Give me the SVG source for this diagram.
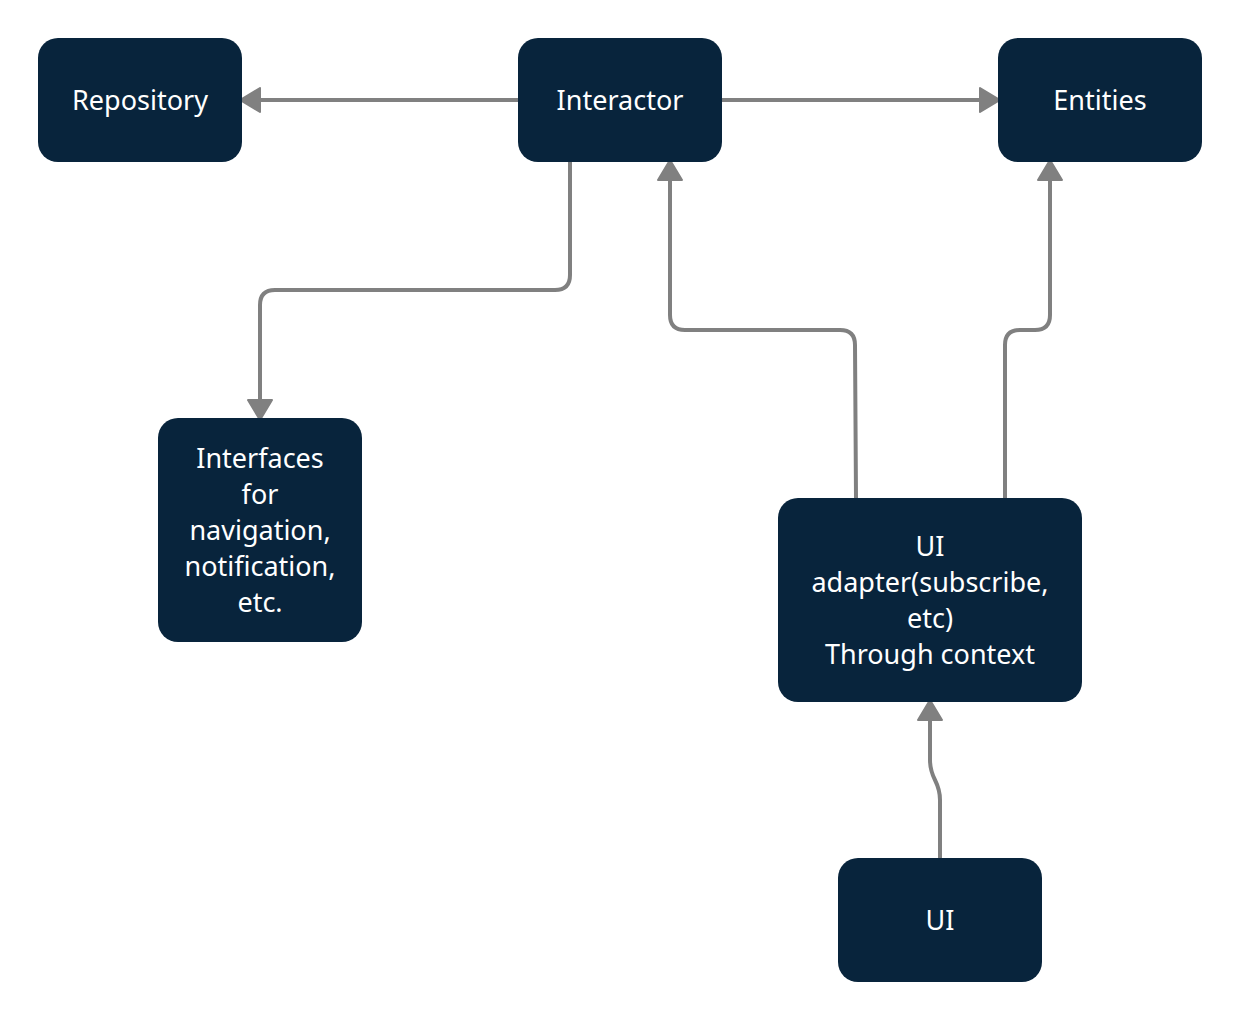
<svg xmlns="http://www.w3.org/2000/svg" width="1240" height="1020" viewBox="0 0 1240 1020">
<defs>
<marker id="ah" viewBox="0 0 22 26" refX="21" refY="13" markerWidth="22" markerHeight="26" markerUnits="userSpaceOnUse" orient="auto">
<path d="M1,1 L21,13 L1,25 Z" fill="#808080" stroke="#808080" stroke-width="2" stroke-linejoin="round"/>
</marker>
<style>
.n{fill:#08243c}
.t{fill:#ffffff;font-family:"Noto Sans","Open Sans","DejaVu Sans",sans-serif;font-size:27px;text-anchor:middle}
.c{fill:none;stroke:#808080;stroke-width:4;stroke-linecap:round;stroke-linejoin:round}
</style>
</defs>
<rect width="1240" height="1020" fill="#ffffff"/>
<g id="connectors">
<path class="c" d="M520,100 L240,100" marker-end="url(#ah)"/>
<path class="c" d="M720,100 L1000,100" marker-end="url(#ah)"/>
<path class="c" d="M570,160 L570,275 Q570,290 555,290 L275,290 Q260,290 260,305 L260,420" marker-end="url(#ah)"/>
<path class="c" d="M856,498 L855,345 Q855,330 840,330 L685,330 Q670,330 670,315 L670,160" marker-end="url(#ah)"/>
<path class="c" d="M1005,498 L1005,345 Q1005,330 1020,330 L1035,330 Q1050,330 1050,315 L1050,160" marker-end="url(#ah)"/>
<path class="c" d="M940,858 L940,800 C940,780 930,780 930,760 L930,700" marker-end="url(#ah)"/>
</g>
<g id="repository">
<rect class="n" x="38" y="38" width="204" height="124" rx="20"/>
<text class="t" x="140" y="110">Repository</text>
</g>
<g id="interactor">
<rect class="n" x="518" y="38" width="204" height="124" rx="20"/>
<text class="t" x="620" y="110">Interactor</text>
</g>
<g id="entities">
<rect class="n" x="998" y="38" width="204" height="124" rx="20"/>
<text class="t" x="1100" y="110">Entities</text>
</g>
<g id="interfaces">
<rect class="n" x="158" y="418" width="204" height="224" rx="20"/>
<text class="t" x="260" y="468">Interfaces</text>
<text class="t" x="260" y="504">for</text>
<text class="t" x="260" y="540">navigation,</text>
<text class="t" x="260" y="576">notification,</text>
<text class="t" x="260" y="612">etc.</text>
</g>
<g id="ui-adapter">
<rect class="n" x="778" y="498" width="304" height="204" rx="20"/>
<text class="t" x="930" y="556">UI</text>
<text class="t" x="930" y="592">adapter(subscribe,</text>
<text class="t" x="930" y="628">etc)</text>
<text class="t" x="930" y="664">Through context</text>
</g>
<g id="ui">
<rect class="n" x="838" y="858" width="204" height="124" rx="20"/>
<text class="t" x="940" y="930">UI</text>
</g>
</svg>
